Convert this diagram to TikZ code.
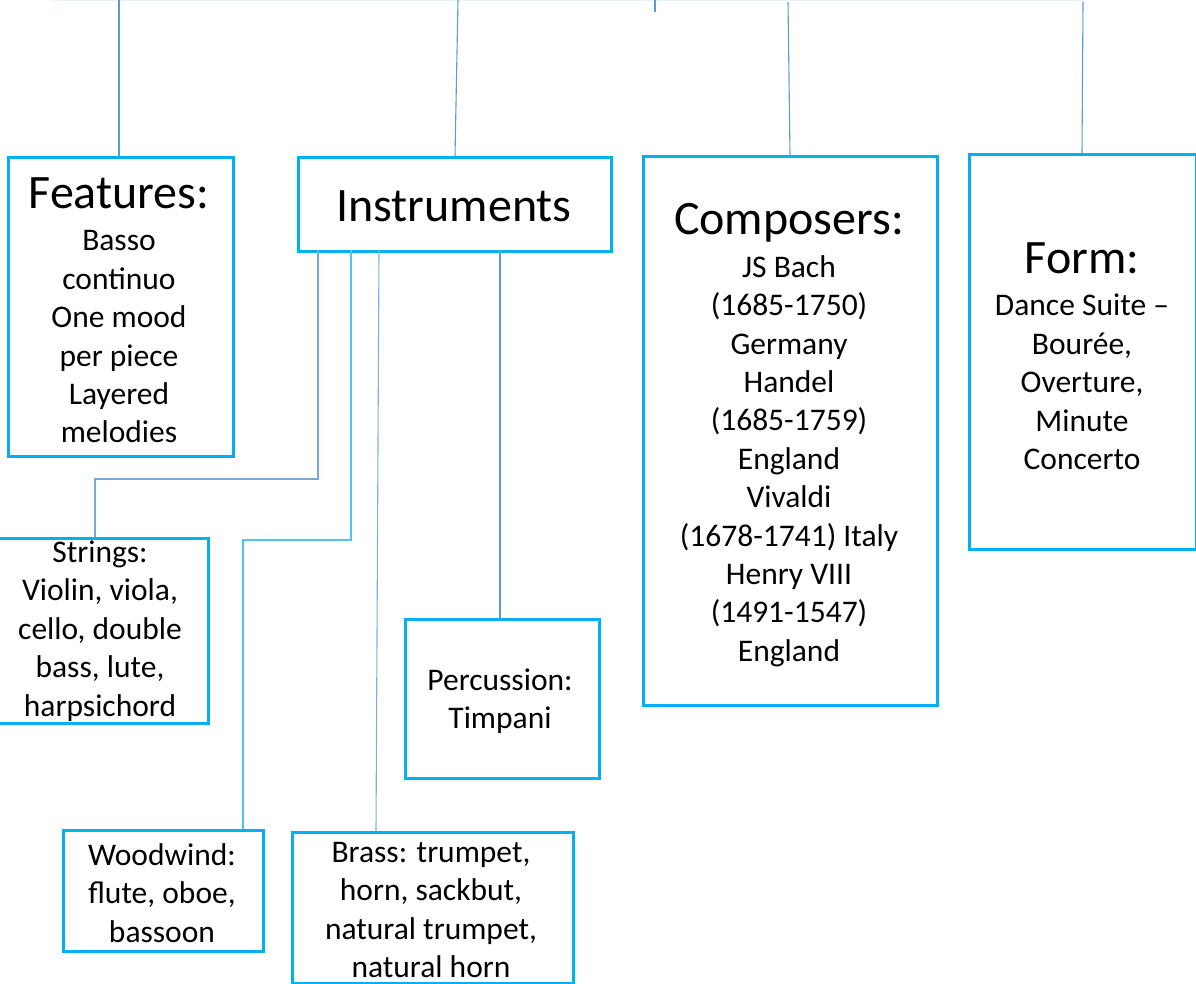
\documentclass[tikz,border=0pt]{standalone}
\usepackage{fontspec}
\setmainfont{Carlito}
\definecolor{boxc}{HTML}{00B0F0}
\definecolor{linec}{HTML}{5B9BD5}
\definecolor{linec2}{HTML}{4FC3F7}
\begin{document}
\begin{tikzpicture}[x=1pt,y=-1pt,
  box/.style={draw=boxc,line width=2.6pt,rectangle,anchor=north west,inner sep=0pt},
  conn/.style={draw=linec,line width=1.1pt},
  conn2/.style={draw=linec2,line width=1.3pt},
  body/.style={align=center,font=\fontsize{31.5}{38.4}\selectfont,inner sep=0pt},
  title/.style={align=center,font=\fontsize{48}{54}\selectfont,inner sep=0pt}]
\useasboundingbox (0,0) rectangle (1196,984);
% boxes
\node[box,minimum width=225,minimum height=299] (feat) at (7,156) {};
\node[box,minimum width=313,minimum height=94] (ins) at (297,156) {};
\node[box,minimum width=294,minimum height=549] (comp) at (642,155) {};
\node[box,minimum width=227,minimum height=395] (form) at (968,153) {};
\node[box,minimum width=210,minimum height=185] (str) at (-3,537) {};
\node[box,minimum width=200,minimum height=121] (wood) at (62,829) {};
\node[box,minimum width=281,minimum height=151] (brass) at (291,831) {};
\node[box,minimum width=194,minimum height=159] (perc) at (404,618) {};
% texts
\node[title] (featT) at (119,193) {Features:};
\node[body] (featB) at (119,337) {Basso\\continuo\\One mood\\per piece\\Layered\\melodies};
\node[title] (insT) at (454,206) {Instruments};
\node[title] (compT) at (789,223) {Composers:};
\node[body] (compB) at (789,461) {JS Bach\\(1685-1750)\\Germany\\Handel\\(1685-1759)\\England\\Vivaldi\\(1678-1741) Italy\\Henry VIII\\(1491-1547)\\England};
\node[title] (formT) at (1082,258) {Form:};
\node[body] (formB) at (1082,382) {Dance Suite –\\Bourée,\\Overture,\\Minute\\Concerto};
\node[body] (strB) at (100,631) {Strings:\\Violin, viola,\\cello, double\\bass, lute,\\harpsichord};
\node[body] (woodB) at (162,893) {Woodwind:\\flute, oboe,\\bassoon};
\node[body] (brassB) at (431,910) {Brass: trumpet,\\horn, sackbut,\\natural trumpet,\\natural horn};
\node[body] (percB) at (500,701) {Percussion:\\Timpani};
% top connectors
\coordinate (t1) at (119,0);
\coordinate (t2) at (458,0);
\coordinate (t3) at (788,2);
\coordinate (t4) at (1083,2);
\coordinate (tk1) at (655,0);
\coordinate (tk2) at (655,12);
\coordinate (h1) at (52,0.8);
\coordinate (h2) at (1083,0.8);
\draw[draw=linec!12,line width=1.2pt] (h1) -- (h2);
\draw[conn] (t1) -- (t1 |- feat.north);
\draw[conn] (t2) -- (455,156);
\draw[conn] (t3) -- (790,155);
\draw[conn] (t4) -- (1082,153);
\draw[conn] (tk1) -- (tk2);
% instrument children
\coordinate (a1) at (318,250);
\coordinate (a2) at (95,479);
\coordinate (a3) at (95,537);
\draw[conn,draw=linec!85] (a1) |- (a2) -- (a3);
\coordinate (b1) at (351,250);
\coordinate (b2) at (243,540);
\coordinate (b3) at (243,829);
\draw[conn2] (b1) |- (b2) -- (b3);
\coordinate (c1) at (379,250);
\coordinate (c2) at (376,831);
\draw[conn,draw=linec!80] (c1) -- (c2);
\coordinate (d1) at (500,250);
\draw[conn] (d1) -- (d1 |- perc.north);
\end{tikzpicture}
\end{document}
